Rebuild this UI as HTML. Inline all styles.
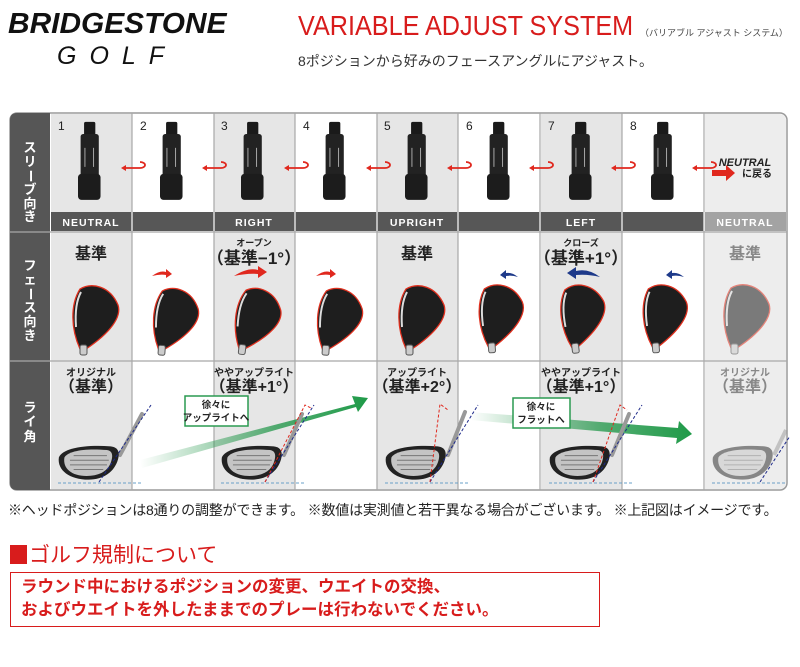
<!DOCTYPE html>
<html><head><meta charset="utf-8"><style>
html,body{margin:0;padding:0;background:#fff;width:800px;height:667px;overflow:hidden;font-family:"Liberation Sans","Noto Sans CJK JP",sans-serif}
.a{position:absolute;white-space:nowrap}
</style></head><body>
<div class="a" style="left:8px;top:8px;font-size:29px;font-weight:bold;font-style:italic;letter-spacing:0px;color:#111;transform:scaleX(1.03);transform-origin:left">BRIDGESTONE</div>
<div class="a" style="left:57px;top:42px;font-size:25px;font-style:italic;letter-spacing:13px;color:#111">GOLF</div>
<div class="a" style="left:298px;top:10px;font-size:28px;color:#d81c1c;transform:scaleX(0.9);transform-origin:left">VARIABLE ADJUST SYSTEM</div>
<div class="a" style="left:640px;top:26px;font-size:9px;color:#444">（バリアブル アジャスト システム）</div>
<div class="a" style="left:298px;top:51px;font-size:14px;color:#333">8ポジションから好みのフェースアングルにアジャスト。</div>

<svg class="a" style="left:0;top:0" width="800" height="667" viewBox="0 0 800 667" font-family="Liberation Sans, Noto Sans CJK JP, sans-serif">
<defs>
<linearGradient id="g1" x1="0" x2="1"><stop offset="0" stop-color="#2a9a50" stop-opacity="0"/><stop offset="0.6" stop-color="#2a9a50" stop-opacity="0.8"/><stop offset="1" stop-color="#1f9a48"/></linearGradient>
<symbol id="sl" viewBox="0 0 30 95" overflow="visible">
<rect x="7" y="0" width="13" height="16" rx="2" fill="#1a1a1a"/>
<rect x="3" y="14" width="21" height="55" rx="3" fill="#222"/>
<rect x="0" y="60" width="26" height="30" rx="4" fill="#1c1c1c"/>
<line x1="8" y1="30" x2="8" y2="52" stroke="#bbb" stroke-width="1"/>
<line x1="18" y1="30" x2="18" y2="52" stroke="#bbb" stroke-width="1"/>
</symbol>
<symbol id="fh" viewBox="0 0 50 72" overflow="visible">
<path d="M10,66 C1,46 0,22 10,6 C22,-1 40,3 48,22 C52,34 40,50 16,66 Z" fill="#1e1e1e" stroke="#e0301e" stroke-width="1.3"/>
<path d="M6,44 C5,30 6,18 11,9" stroke="#ddd" stroke-width="2" fill="none"/>
<rect x="10" y="62" width="7" height="10" rx="2" fill="#ccc" stroke="#555"/>
</symbol>
<symbol id="dr" viewBox="0 0 80 40" overflow="visible">
<path d="M2,14 C6,4 30,0 58,2 C66,3 68,8 66,16 C62,30 50,38 34,38 C14,38 0,28 2,14 Z" fill="#222"/>
<path d="M8,14 C12,7 30,4 54,6 C60,7 61,12 58,20 C54,30 44,34 32,34 C16,34 6,26 8,14 Z" fill="#c4c4c4"/>
<g stroke="#777" stroke-width="1"><line x1="18" y1="12" x2="54" y2="12"/><line x1="14" y1="17" x2="56" y2="17"/><line x1="14" y1="22" x2="54" y2="22"/><line x1="18" y1="27" x2="50" y2="27"/></g>
</symbol>
</defs>
<rect x="10" y="113" width="777" height="377" rx="7" fill="#fff" stroke="#9a9a9a" stroke-width="1.5"/>
<path d="M17,113 H50 V490 H17 Q10,490 10,483 V120 Q10,113 17,113 Z" fill="#565656"/>
<g fill="#e6e6e6">
<rect x="51" y="114" width="81" height="375"/><rect x="214" y="114" width="81" height="375"/><rect x="377" y="114" width="81" height="375"/><rect x="541" y="114" width="81" height="375"/>
<path d="M705,114 H779 Q786,114 786,121 V482 Q786,489 779,489 H705 Z" fill="#ededed"/>
</g>
<g stroke="#a8a8a8" stroke-width="1.2">
<line x1="132" y1="113" x2="132" y2="490"/><line x1="214" y1="113" x2="214" y2="490"/><line x1="295" y1="113" x2="295" y2="490"/><line x1="377" y1="113" x2="377" y2="490"/><line x1="458" y1="113" x2="458" y2="490"/><line x1="540" y1="113" x2="540" y2="490"/><line x1="622" y1="113" x2="622" y2="490"/><line x1="704" y1="113" x2="704" y2="490"/>
<line x1="10" y1="232" x2="787" y2="232"/><line x1="10" y1="361" x2="787" y2="361"/>
</g>
<rect x="51" y="212" width="653" height="19" fill="#575757"/>
<rect x="705" y="212" width="81" height="19" fill="#a3a3a3"/>
<g stroke="#ddd" stroke-width="1.5"><line x1="132" y1="212" x2="132" y2="231"/><line x1="214" y1="212" x2="214" y2="231"/><line x1="295" y1="212" x2="295" y2="231"/><line x1="377" y1="212" x2="377" y2="231"/><line x1="458" y1="212" x2="458" y2="231"/><line x1="540" y1="212" x2="540" y2="231"/><line x1="622" y1="212" x2="622" y2="231"/><line x1="704" y1="212" x2="704" y2="231"/></g>
<g fill="#fff" font-size="10.5" font-weight="bold" text-anchor="middle" letter-spacing="1">
<text x="91" y="226">NEUTRAL</text><text x="254" y="226">RIGHT</text><text x="417" y="226">UPRIGHT</text><text x="581" y="226">LEFT</text><text x="745" y="226">NEUTRAL</text></g>
<g fill="#fff" font-size="13" font-weight="bold" text-anchor="middle">
<text x="30" y="152">ス</text><text x="30" y="166">リ</text><text x="30" y="180" transform="rotate(90 30 176)">ー</text><text x="30" y="194">ブ</text><text x="30" y="208">向</text><text x="30" y="221">き</text>
<text x="30" y="270">フ</text><text x="30" y="284">ェ</text><text x="30" y="298" transform="rotate(90 30 294)">ー</text><text x="30" y="312">ス</text><text x="30" y="326">向</text><text x="30" y="340">き</text>
<text x="30" y="412">ラ</text><text x="30" y="426">イ</text><text x="30" y="441">角</text></g>
<g font-size="12" fill="#222"><text x="58" y="130">1</text><text x="140" y="130">2</text><text x="221" y="130">3</text><text x="303" y="130">4</text><text x="384" y="130">5</text><text x="466" y="130">6</text><text x="548" y="130">7</text><text x="630" y="130">8</text></g>
<use href="#sl" x="78" y="118" width="26" height="90"/><use href="#sl" x="160" y="118" width="26" height="90"/><use href="#sl" x="241" y="118" width="26" height="90"/><use href="#sl" x="323" y="118" width="26" height="90"/><use href="#sl" x="405" y="118" width="26" height="90"/><use href="#sl" x="487" y="118" width="26" height="90"/><use href="#sl" x="569" y="118" width="26" height="90"/><use href="#sl" x="651" y="118" width="26" height="90"/>
<g fill="none" stroke="#e0281e" stroke-width="1.8">
<path d="M124,168 h16 a5,3 0 0 0 0,-6"/><path d="M205,168 h16 a5,3 0 0 0 0,-6"/><path d="M287,168 h16 a5,3 0 0 0 0,-6"/><path d="M369,168 h16 a5,3 0 0 0 0,-6"/><path d="M450,168 h16 a5,3 0 0 0 0,-6"/><path d="M532,168 h16 a5,3 0 0 0 0,-6"/><path d="M614,168 h16 a5,3 0 0 0 0,-6"/><path d="M695,168 h16 a5,3 0 0 0 0,-6"/></g>
<g fill="#e0281e"><path d="M121,168 l5,-3 v6z"/><path d="M202,168 l5,-3 v6z"/><path d="M284,168 l5,-3 v6z"/><path d="M366,168 l5,-3 v6z"/><path d="M447,168 l5,-3 v6z"/><path d="M529,168 l5,-3 v6z"/><path d="M611,168 l5,-3 v6z"/><path d="M692,168 l5,-3 v6z"/></g>
<text x="745" y="166" font-size="11" font-weight="bold" font-style="italic" text-anchor="middle" fill="#222">NEUTRAL</text>
<path d="M712,170 h14 v-5 l9,8 -9,8 v-5 h-14z" fill="#e0281e"/>
<text x="742" y="177" font-size="10" font-weight="bold" fill="#222">に戻る</text>
<g font-weight="bold" text-anchor="middle" fill="#222">
<text x="91" y="259" font-size="16">基準</text>
<text x="254" y="246" font-size="9">オープン</text><text x="254" y="264" font-size="17">（基準−1°）</text>
<text x="417" y="259" font-size="16">基準</text>
<text x="581" y="246" font-size="9">クローズ</text><text x="581" y="264" font-size="17">（基準+1°）</text>
<text x="745" y="259" font-size="16" fill="#888">基準</text></g>
<use href="#fh" x="70" y="283" width="50" height="72"/>
<use href="#fh" x="150" y="286" width="50" height="70" transform="rotate(4 175 320)"/>
<use href="#fh" x="232" y="286" width="50" height="70" transform="rotate(7 257 320)"/>
<use href="#fh" x="314" y="286" width="50" height="70" transform="rotate(4 339 320)"/>
<use href="#fh" x="396" y="283" width="50" height="72"/>
<use href="#fh" x="476" y="282" width="50" height="70" transform="rotate(-4 501 318)"/>
<use href="#fh" x="558" y="282" width="50" height="70" transform="rotate(-7 583 318)"/>
<use href="#fh" x="640" y="282" width="50" height="70" transform="rotate(-4 665 318)"/>
<g opacity="0.55"><use href="#fh" x="721" y="282" width="50" height="72"/></g>
<g fill="#e0281e"><path d="M152,276 q8,-6 14,-4 l0,-3 6,5 -6,4 0,-3 q-6,-1 -14,1z"/><path d="M234,276 q14,-9 24,-6 l0,-4 9,6 -9,6 0,-4 q-10,-1 -24,2z"/><path d="M316,276 q8,-6 14,-4 l0,-3 6,5 -6,4 0,-3 q-6,-1 -14,1z"/></g>
<g fill="#1e3a8a"><path d="M518,277 q-6,-5 -12,-4 l0,-3 -6,5 6,4 0,-3 q6,-1 12,1z"/><path d="M600,277 q-12,-9 -24,-6 l0,-4 -9,6 9,6 0,-4 q12,-1 24,2z"/><path d="M684,277 q-6,-5 -12,-4 l0,-3 -6,5 6,4 0,-3 q6,-1 12,1z"/></g>
<g font-weight="bold" text-anchor="middle" fill="#222">
<text x="91" y="376" font-size="10">オリジナル</text><text x="91" y="392" font-size="16">（基準）</text>
<text x="254" y="376" font-size="10">ややアップライト</text><text x="254" y="392" font-size="16">（基準+1°）</text>
<text x="417" y="376" font-size="10">アップライト</text><text x="417" y="392" font-size="16">（基準+2°）</text>
<text x="581" y="376" font-size="10">ややアップライト</text><text x="581" y="392" font-size="16">（基準+1°）</text>
<g fill="#888"><text x="745" y="376" font-size="10">オリジナル</text><text x="745" y="392" font-size="16">（基準）</text></g></g>
<path d="M140,460 L355,404 L352,396 L368,398 L358,412 L356,407 L142,468Z" fill="url(#g1)"/>
<path d="M470,412 L678,428 L679,421 L692,434 L676,444 L677,438 L470,420Z" fill="url(#g1)"/>
<rect x="185" y="396" width="63" height="30" fill="#fff" stroke="#2a9a50" stroke-width="1.5"/>
<text x="216" y="408" font-size="9.5" font-weight="bold" text-anchor="middle" fill="#222">徐々に</text><text x="216" y="421" font-size="9.5" font-weight="bold" text-anchor="middle" fill="#222">アップライトへ</text>
<rect x="513" y="398" width="57" height="30" fill="#fff" stroke="#2a9a50" stroke-width="1.5"/>
<text x="541" y="410" font-size="9.5" font-weight="bold" text-anchor="middle" fill="#222">徐々に</text><text x="541" y="423" font-size="9.5" font-weight="bold" text-anchor="middle" fill="#222">フラットへ</text>
<g stroke="#999" stroke-width="4" stroke-linecap="round"><line x1="120" y1="455" x2="142" y2="414"/><line x1="284" y1="455" x2="302" y2="414"/><line x1="448" y1="455" x2="465" y2="412"/><line x1="612" y1="455" x2="629" y2="414"/></g>
<use href="#dr" x="57" y="443" width="74" height="40"/>
<use href="#dr" x="220" y="443" width="74" height="40"/>
<use href="#dr" x="384" y="443" width="74" height="40"/>
<use href="#dr" x="548" y="443" width="74" height="40"/>
<g opacity="0.5"><use href="#dr" x="711" y="443" width="74" height="40"/><line x1="774" y1="455" x2="786" y2="430" stroke="#999" stroke-width="4"/></g>
<g fill="none" stroke-dasharray="3,2" stroke-width="1">
<g stroke="#6aa0c8"><line x1="58" y1="483" x2="143" y2="483"/><line x1="221" y1="483" x2="306" y2="483"/><line x1="385" y1="483" x2="470" y2="483"/><line x1="549" y1="483" x2="634" y2="483"/><line x1="712" y1="483" x2="786" y2="483"/></g>
<g stroke="#1e2a8a"><line x1="99" y1="482" x2="151" y2="405"/><line x1="265" y1="482" x2="314" y2="405"/><line x1="430" y1="482" x2="478" y2="405"/><line x1="593" y1="482" x2="642" y2="405"/><line x1="760" y1="482" x2="790" y2="436"/></g>
<g stroke="#e0281e"><path d="M265,482 L305,405 L311,408"/><path d="M430,482 L440,404 L448,410"/><path d="M593,482 L620,405 L627,410"/></g></g>
</svg>

<div class="a" style="left:8px;top:500px;font-size:14px;color:#222;letter-spacing:-0.2px">※ヘッドポジションは8通りの調整ができます。 ※数値は実測値と若干異なる場合がございます。 ※上記図はイメージです。</div>
<div class="a" style="left:10px;top:539px;font-size:21px;color:#d81c1c"><span style="display:inline-block;width:17px;height:19px;background:#d81c1c;vertical-align:-2px;margin-right:2px"></span>ゴルフ規制について</div>
<div class="a" style="left:10px;top:572px;width:590px;height:55px;border:1.5px solid #d81c1c;box-sizing:border-box"></div>
<div class="a" style="left:21px;top:576px;font-size:16.5px;line-height:23px;color:#d81c1c;font-weight:bold">ラウンド中におけるポジションの変更、ウエイトの交換、<br>およびウエイトを外したままでのプレーは行わないでください。</div>
</body></html>
